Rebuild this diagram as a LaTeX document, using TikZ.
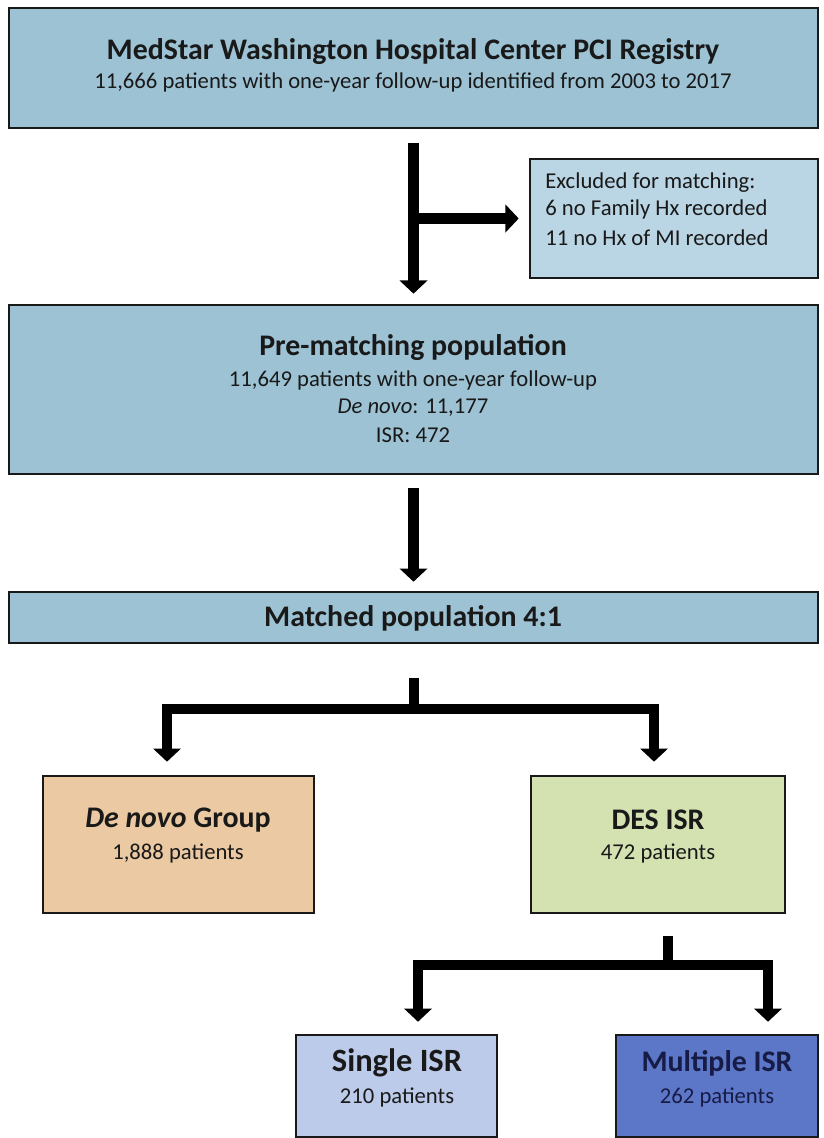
\documentclass[tikz,border=0pt]{standalone}
\usepackage{fontspec}
\setmainfont{Carlito}
\usetikzlibrary{arrows.meta,fit}
\definecolor{steel}{RGB}{156,194,212}
\definecolor{paleblue}{RGB}{186,213,228}
\definecolor{tan}{RGB}{234,201,163}
\definecolor{sage}{RGB}{212,225,177}
\definecolor{lilac}{RGB}{188,203,234}
\definecolor{royal}{RGB}{92,118,200}
\definecolor{navy}{RGB}{22,28,70}
\tikzset{
  box/.style={draw=black!90, line width=1.5pt, inner sep=0pt},
  arr/.style={line width=5.8pt, -{Triangle[width=15.5pt,length=7.5pt]}},
  head/.style={font=\fontsize{17}{20}\selectfont\bfseries, text=black!90},
  body/.style={font=\fontsize{12.9}{15}\selectfont, text=black!90},
}
\begin{document}
\begin{tikzpicture}[x=0.02cm,y=-0.02cm]
\useasboundingbox (0,0) rectangle (823,1138);
% boxes
\node[box, fill=steel, fit={(9,8) (818,128)}] (reg) {};
\node[box, fill=paleblue, fit={(530,159) (818,278)}] (excl) {};
\node[box, fill=steel, fit={(9,305) (818,474)}] (pre) {};
\node[box, fill=steel, fit={(9,592) (818,643)}] (match) {};
\node[box, fill=tan, fit={(43,776) (314,913)}] (denovo) {};
\node[box, fill=sage, fit={(531,776) (785,913)}] (des) {};
\node[box, fill=lilac, fit={(296,1035) (497,1137)}] (single) {};
\node[box, fill=royal, fit={(616,1035) (818,1137)}] (multi) {};
% texts
\node[head] (regt) at (413,52) {MedStar Washington Hospital Center PCI Registry};
\node[body] (regs) at (413,82) {11,666 patients with one-year follow-up identified from 2003 to 2017};
\node[body, anchor=west, inner sep=0pt] (ex1) at (545,183) {Excluded for matching:};
\node[body, anchor=west, inner sep=0pt] (ex2) at (545,209) {6 no Family Hx recorded};
\node[body, anchor=west, inner sep=0pt] (ex3) at (545,238) {11 no Hx of MI recorded};
\node[head] (pret) at (413,348) {Pre-matching population};
\node[body] (pre1) at (413,380) {11,649 patients with one-year follow-up};
\node[body] (pre2) at (413,408) {\textit{De novo}: 11,177};
\node[body] (pre3) at (413,435) {ISR: 472};
\node[head] (matcht) at (413,618) {Matched population 4:1};
\node[head] (dnt) at (178,820) {\textit{De novo} Group};
\node[body] (dnn) at (178,853) {1,888 patients};
\node[head] (dest) at (658,820) {DES ISR};
\node[body] (desn) at (658,853) {472 patients};
\node[head, font=\fontsize{18.5}{20}\selectfont\bfseries] (sgt) at (397,1063) {Single ISR};
\node[body] (sgn) at (397,1097) {210 patients};
\node[head, text=navy] (mut) at (717,1063) {Multiple ISR};
\node[body, text=navy] (mun) at (717,1097) {262 patients};
% connectors
\coordinate (m2) at (414,709);
\coordinate (mL) at (167,709);
\coordinate (mR) at (654,709);
\coordinate (s2) at (668,965);
\coordinate (sL) at (418,965);
\coordinate (sR) at (768,965);
\draw[arr, shorten <=8pt, shorten >=5.7pt] (reg.south) -- (pre.north);
\draw[arr, shorten >=5.7pt] (reg.south |- excl.west) -- (excl.west);
\draw[arr, shorten <=7.4pt, shorten >=5.1pt] (pre.south) -- (match.north);
\draw[arr, shorten <=19.3pt, shorten >=7.4pt] (match.south -| m2) -- (m2) -- (mL) -- (mL |- denovo.north);
\draw[arr, shorten >=7.4pt] (m2) -- (mR) -- (mR |- des.north);
\draw[arr, shorten <=12.5pt, shorten >=6.8pt] (des.south -| s2) -- (s2) -- (sL) -- (sL |- single.north);
\draw[arr, shorten >=6.8pt] (s2) -- (sR) -- (sR |- multi.north);
\end{tikzpicture}
\end{document}
